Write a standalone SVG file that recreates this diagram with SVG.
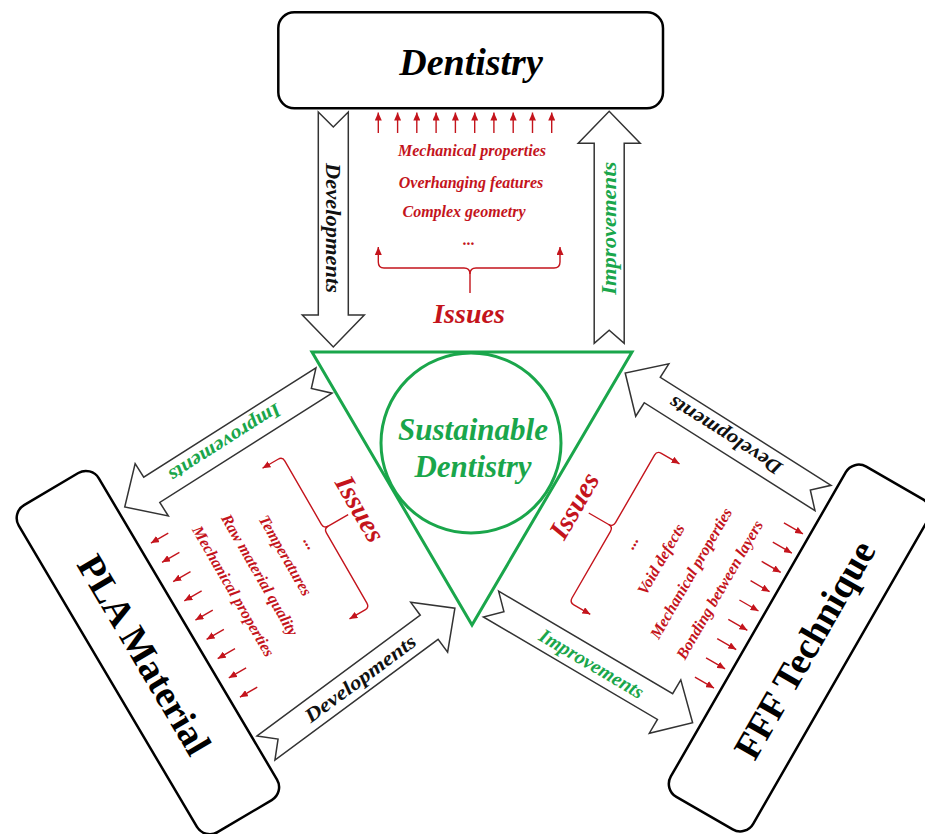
<svg xmlns="http://www.w3.org/2000/svg" width="925" height="834" viewBox="0 0 925 834">
<style>
  .box{fill:#fff;stroke:#000;stroke-width:2.5}
  .blk{fill:#fff;stroke:#333;stroke-width:1.5;stroke-linejoin:miter}
  .serif{font-family:"Liberation Serif","Times New Roman",serif;font-weight:bold;text-anchor:middle}
  .it{font-style:italic}
  .big{font-size:38px;fill:#000}
  .grn{fill:#1aa64b}
  .red{fill:#c4141c}
  .iss{font-size:16px}
  .issT{font-size:28px}
  .lbl{font-size:20px}
  .rl{stroke:#c4141c;stroke-width:1.4;fill:none;marker-end:url(#ah)}
  .tri{fill:none;stroke:#1aa64b;stroke-width:3}
</style>
<defs>
  <marker id="ah" viewBox="0 0 8 7" refX="8" refY="3.5" markerWidth="8" markerHeight="7" markerUnits="userSpaceOnUse" orient="auto">
    <path d="M0,0 L8,3.5 L0,7 Z" fill="#c4141c"/>
  </marker>
</defs>
<rect width="925" height="834" fill="#fff"/>

<!-- Central node -->
<g id="sustainable">
  <polygon class="tri" points="312,352 632,352 472,625"/>
  <circle class="tri" cx="471" cy="443" r="90"/>
  <text class="serif it grn" x="473" y="440" font-size="31">Sustainable</text>
  <text class="serif it grn" x="473" y="477" font-size="31">Dentistry</text>
</g>

<!-- Dentistry node -->
<g id="dentistry">
  <rect class="box" x="278.3" y="12.3" width="384.7" height="96" rx="16"/>
  <text class="serif it big" x="471" y="75">Dentistry</text>
</g>

<!-- PLA node -->
<g id="pla" transform="translate(147.9,652.6) rotate(59.4)">
  <rect class="box" x="-190" y="-46.5" width="380" height="93" rx="15"/>
  <text class="serif big" x="0" y="17">PLA Material</text>
</g>

<!-- FFF node -->
<g id="fff" transform="translate(799.5,648) rotate(-60.1)">
  <rect class="box" x="-190.5" y="-47.5" width="381" height="95" rx="15"/>
  <text class="serif big" x="1" y="18" font-size="39">FFF Technique</text>
</g>

<!-- Issues: Dentistry -->
<g id="issues-dentistry">
  <line class="rl" x1="378.3" y1="133" x2="378.3" y2="112.5"/>
  <line class="rl" x1="397.6" y1="133" x2="397.6" y2="112.5"/>
  <line class="rl" x1="416.8" y1="133" x2="416.8" y2="112.5"/>
  <line class="rl" x1="436.1" y1="133" x2="436.1" y2="112.5"/>
  <line class="rl" x1="455.4" y1="133" x2="455.4" y2="112.5"/>
  <line class="rl" x1="474.7" y1="133" x2="474.7" y2="112.5"/>
  <line class="rl" x1="493.9" y1="133" x2="493.9" y2="112.5"/>
  <line class="rl" x1="513.2" y1="133" x2="513.2" y2="112.5"/>
  <line class="rl" x1="532.5" y1="133" x2="532.5" y2="112.5"/>
  <line class="rl" x1="551.7" y1="133" x2="551.7" y2="112.5"/>
  <text class="serif it red iss" x="472" y="156">Mechanical properties</text>
  <text class="serif it red iss" x="471" y="188">Overhanging features</text>
  <text class="serif it red iss" x="464" y="217">Complex geometry</text>
  <text class="serif it red iss" x="469" y="245">...</text>
  <path class="rl" d="M470,293 V274 Q470,268 464,268 H384 Q378.3,268 378.3,262 V247"/>
  <path class="rl" d="M470,274 Q470,268 476,268 H554 Q560,268 560,262 V247"/>
  <text class="serif it red issT" x="469" y="323">Issues</text>
</g>

<!-- Issues: PLA -->
<g id="issues-pla" transform="translate(327,528) rotate(60)">
  <text class="serif it red issT" x="0" y="-29">Issues</text>
  <path class="rl" d="M-1,-25 V-2 Q-1,3 -6,3 H-79 Q-84,3 -84,8 V26"/>
  <path class="rl" d="M-1,-2 Q-1,3 4,3 H85 Q90,3 90,8 V26"/>
  <text class="serif it red iss" x="5" y="27">...</text>
  <text class="serif it red iss" x="3" y="55">Temperatures</text>
  <text class="serif it red iss" x="7" y="87">Raw material quality</text>
  <text class="serif it red iss" x="8" y="118">Mechanical properties</text>
  <line class="rl" x1="-75" y1="140" x2="-75" y2="160"/>
  <line class="rl" x1="-52.75" y1="140" x2="-52.75" y2="160"/>
  <line class="rl" x1="-30.5" y1="140" x2="-30.5" y2="160"/>
  <line class="rl" x1="-8.25" y1="140" x2="-8.25" y2="160"/>
  <line class="rl" x1="14" y1="140" x2="14" y2="160"/>
  <line class="rl" x1="36.25" y1="140" x2="36.25" y2="160"/>
  <line class="rl" x1="58.5" y1="140" x2="58.5" y2="160"/>
  <line class="rl" x1="80.75" y1="140" x2="80.75" y2="160"/>
  <line class="rl" x1="103" y1="140" x2="103" y2="160"/>
</g>

<!-- Issues: FFF -->
<g id="issues-fff" transform="translate(613,527) rotate(-60)">
  <text class="serif it red issT" x="-1" y="-35">Issues</text>
  <path class="rl" d="M0,-28 V-5 Q0,0 -5,0 H-82 Q-87,0 -87,5 V24"/>
  <path class="rl" d="M0,-5 Q0,0 5,0 H83 Q88,0 88,5 V26"/>
  <text class="serif it red iss" x="-4" y="29">...</text>
  <text class="serif it red iss" x="-4" y="63">Void defects</text>
  <text class="serif it red iss" x="-1" y="96">Mechanical properties</text>
  <text class="serif it red iss" x="-1" y="129">Bonding between layers</text>
  <line class="rl" x1="-89" y1="146" x2="-89" y2="168"/>
  <line class="rl" x1="-66.75" y1="146" x2="-66.75" y2="168"/>
  <line class="rl" x1="-44.5" y1="146" x2="-44.5" y2="168"/>
  <line class="rl" x1="-22.25" y1="146" x2="-22.25" y2="168"/>
  <line class="rl" x1="0" y1="146" x2="0" y2="168"/>
  <line class="rl" x1="22.25" y1="146" x2="22.25" y2="168"/>
  <line class="rl" x1="44.5" y1="146" x2="44.5" y2="168"/>
  <line class="rl" x1="66.75" y1="146" x2="66.75" y2="168"/>
  <line class="rl" x1="89" y1="146" x2="89" y2="168"/>
</g>

<!-- Connectors -->
<g id="connectors">
  <g transform="translate(333.3,112) rotate(90)">
    <path class="blk" d="M0,-15 H203 V-31 L235,0 L203,31 V15 H0 L15,0 Z"/>
    <text class="serif it lbl" x="116" y="7" fill="#111" textLength="130" lengthAdjust="spacingAndGlyphs">Developments</text>
  </g>
  <g transform="translate(609.2,343.3) rotate(-90)">
    <path class="blk" d="M0,-15 H200 V-31 L232,0 L200,31 V15 H0 L13,0 Z"/>
    <text class="serif it lbl grn" x="115" y="7" textLength="133" lengthAdjust="spacingAndGlyphs">Improvements</text>
  </g>
  <g transform="translate(324,380.5) rotate(147.6)">
    <path class="blk" d="M0,-15 H204 V-31 L236,0 L204,31 V15 H0 L15,0 Z"/>
    <text class="serif it lbl grn" x="117" y="7" textLength="129" lengthAdjust="spacingAndGlyphs">Improvements</text>
  </g>
  <g transform="translate(266,748) rotate(-36.5)">
    <path class="blk" d="M0,-15 H203 V-31 L235,0 L203,31 V15 H0 L15,0 Z"/>
    <text class="serif it lbl" x="117" y="7" fill="#111" textLength="133" lengthAdjust="spacingAndGlyphs">Developments</text>
  </g>
  <g transform="translate(823,498) rotate(-147.7)">
    <path class="blk" d="M0,-15 H202 V-31 L234,0 L202,31 V15 H0 L15,0 Z"/>
    <text class="serif it lbl" x="116" y="7" fill="#111" textLength="130" lengthAdjust="spacingAndGlyphs">Developments</text>
  </g>
  <g transform="translate(491,604) rotate(30.5)">
    <path class="blk" d="M0,-15 H202 V-31 L234,0 L202,31 V15 H0 L15,0 Z"/>
    <text class="serif it lbl grn" x="117" y="7" textLength="118" lengthAdjust="spacingAndGlyphs">Improvements</text>
  </g>
</g>
</svg>
